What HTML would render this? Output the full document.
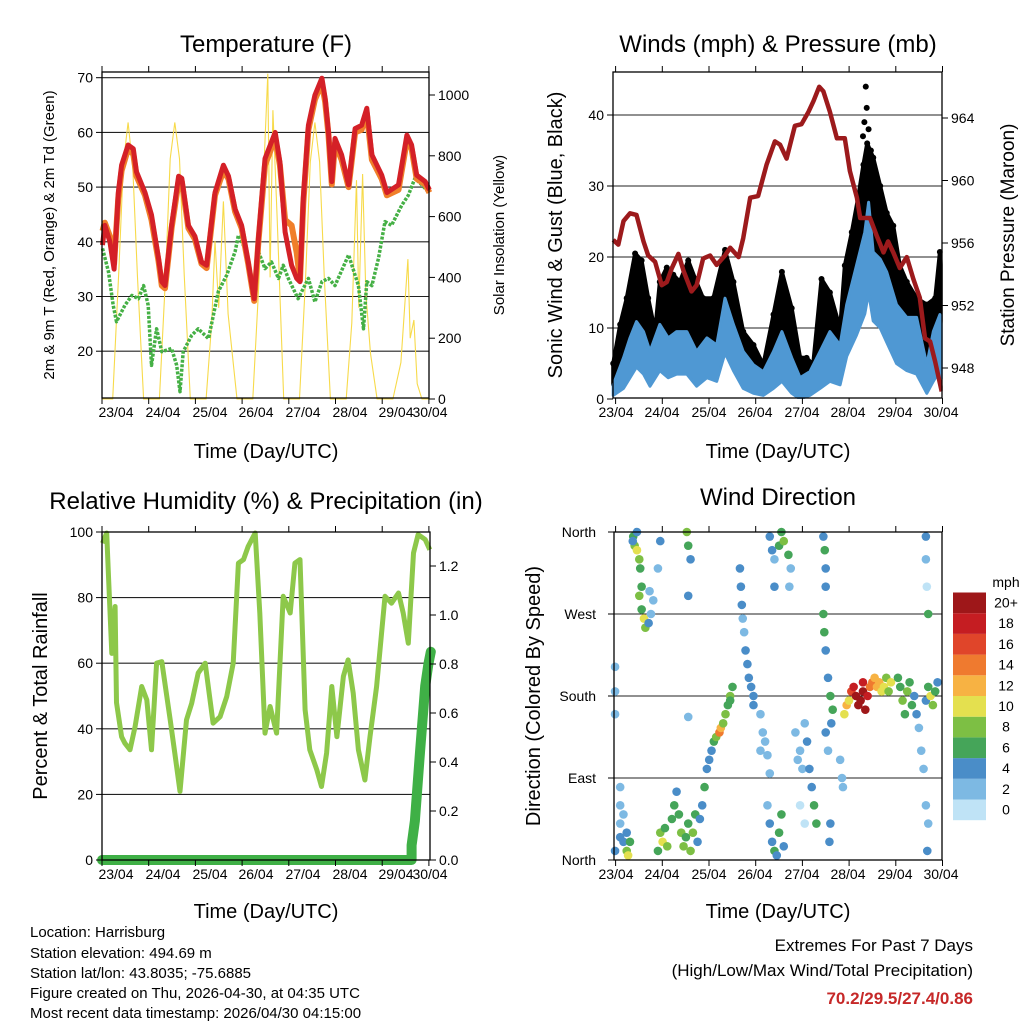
<!DOCTYPE html>
<html><head><meta charset="utf-8"><style>
html,body{margin:0;padding:0;background:#fff;}
svg{display:block;font-family:"Liberation Sans",Arial,sans-serif;}
</style></head><body>
<svg id="c" width="1024" height="1024" viewBox="0 0 1024 1024">
<rect width="1024" height="1024" fill="#fff"/>
<g font-size="24" text-anchor="middle" fill="#000">
<text x="266" y="52">Temperature (F)</text>
<text x="778" y="52">Winds (mph) &amp; Pressure (mb)</text>
<text x="266" y="509">Relative Humidity (%) &amp; Precipitation (in)</text>
<text x="778" y="505">Wind Direction</text>
</g>
<g font-size="20" text-anchor="middle">
<text x="266" y="458">Time (Day/UTC)</text>
<text x="778" y="458">Time (Day/UTC)</text>
<text x="266" y="918">Time (Day/UTC)</text>
<text x="778" y="918">Time (Day/UTC)</text>
<text transform="translate(562,235) rotate(-90)">Sonic Wind &amp; Gust (Blue, Black)</text>
<text transform="translate(1014,235) rotate(-90)" font-size="19">Station Pressure (Maroon)</text>
<text transform="translate(47,696) rotate(-90)">Percent &amp; Total Rainfall</text>
<text transform="translate(540,696) rotate(-90)">Direction (Colored By Speed)</text>
</g>
<g font-size="15" text-anchor="middle">
<text transform="translate(54,235) rotate(-90)">2m &amp; 9m T (Red, Orange) &amp; 2m Td (Green)</text>
<text transform="translate(504,235) rotate(-90)">Solar Insolation (Yellow)</text>
</g>
<g font-size="15">
<text x="30" y="937">Location: Harrisburg</text>
<text x="30" y="958">Station elevation: 494.69 m</text>
<text x="30" y="978">Station lat/lon: 43.8035; -75.6885</text>
<text x="30" y="998">Figure created on Thu, 2026-04-30, at 04:35 UTC</text>
<text x="30" y="1018">Most recent data timestamp: 2026/04/30 04:15:00</text>
</g>
<g font-size="17" text-anchor="end">
<text x="973" y="951">Extremes For Past 7 Days</text>
<text x="973" y="976">(High/Low/Max Wind/Total Precipitation)</text>
<text x="973" y="1004" font-weight="bold" fill="#c62828">70.2/29.5/27.4/0.86</text>
</g>
<g id="plots"></g>
</svg>
<script>
// ---------- Temperature panel data ----------
const tempTimes=[-0.29,-0.24,-0.13,-0.04,0.05,0.12,0.26,0.37,0.44,0.62,0.76,0.91,0.98,1.05,1.19,1.34,1.41,1.55,1.69,1.83,1.94,2.12,2.30,2.41,2.55,2.69,2.83,2.96,3.05,3.19,3.41,3.51,3.62,3.76,3.87,3.94,4.01,4.12,4.26,4.41,4.48,4.55,4.62,4.69,4.83,4.98,5.12,5.26,5.37,5.48,5.69,5.80,6.05,6.23,6.33,6.44,6.62,6.71];
const tempRed=[39.4,43,40,35,49,54,57.7,57,52.8,49,44.9,37,32.7,32,43,52,51.6,43,41,36.3,35.7,49,54,52,46,43,36.3,29.6,40.6,55.2,60,54.6,41.8,35.7,33.3,32.7,48,61.3,66.8,69.9,66.2,60,51,58.9,55.9,50.4,60.7,61.3,64.4,55.9,52.2,49,50.4,59.5,57.7,52.2,51,49.5];
const tempOrange=[42,43.5,41,36,48,53,57,56,52,48.5,44,36.5,32,31.5,42.5,51,51,42.5,40.5,36,35.2,48.5,53,51.5,45.5,42.5,36,29.2,40,54,59,54,44,43,38,33,47,60.5,66,69,65.5,59.5,50.5,58,55,50,60,60.5,63.5,55,51.5,48.5,49.5,58.5,57,51.5,50.5,49];
const dewTimes=[-0.29,-0.16,-0.06,0.01,0.19,0.34,0.48,0.59,0.69,0.76,0.87,0.98,1.19,1.30,1.37,1.44,1.62,1.76,1.98,2.19,2.37,2.55,2.62,2.76,2.94,3.05,3.19,3.33,3.48,3.58,3.69,3.90,4.12,4.26,4.41,4.55,4.69,4.98,5.19,5.30,5.37,5.48,5.62,5.76,5.90,6.12,6.26,6.40,6.55,6.69];
const dewValues=[38.8,34.5,28.4,25.4,28.4,30.2,29.6,32,28.4,17.4,24.1,19.9,20.5,17.4,12.6,19.9,22.9,24.1,22.3,30.9,33.9,38.2,41.2,38.8,29.6,38.2,35.1,36.3,33.3,35.7,33.3,29.6,33.3,29,32.7,33.3,32,37.6,32,24.1,32.7,32,37,43.7,43,46.7,48.5,51.6,50.4,49.1];
const solarTimes=[-0.30,-0.07,0.06,0.16,0.26,0.36,0.46,0.59,0.93,1.06,1.16,1.26,1.36,1.46,1.59,1.93,2.05,2.12,2.20,2.30,2.40,2.59,2.93,3.05,3.15,3.25,3.30,3.36,3.45,3.59,3.93,4.06,4.16,4.26,4.36,4.46,4.59,4.93,5.05,5.15,5.20,5.28,5.35,5.45,5.59,5.93,6.10,6.18,6.25,6.30,6.38,6.45,6.55,6.70];
const solarValues=[0,0,420,780,910,760,400,0,0,400,790,910,790,410,0,0,250,520,300,650,280,0,0,350,700,1070,400,950,600,0,0,400,780,910,780,400,0,0,250,720,300,740,350,150,0,0,120,300,460,200,260,50,0,0];
const tempTicks=[20,30,40,50,60,70];
const solarTicks=[0,200,400,600,800,1000];
const dayLabels=["23/04","24/04","25/04","26/04","27/04","28/04","29/04","30/04"];
// ---------- Winds panel data ----------
const presTimes=[-0.06,0.05,0.16,0.30,0.44,0.59,0.69,0.84,0.98,1.09,1.20,1.34,1.45,1.62,1.73,1.87,2.02,2.16,2.34,2.45,2.63,2.73,2.88,3.05,3.23,3.41,3.52,3.66,3.84,3.98,4.13,4.24,4.36,4.45,4.59,4.74,4.91,5.02,5.17,5.24,5.45,5.59,5.74,5.84,5.95,6.09,6.24,6.38,6.52,6.63,6.74,6.85,6.99];
const presValues=[956.2,955.9,957.4,957.9,957.8,956.1,955.2,954.8,953.3,953.5,954.4,955.3,954.2,952.9,953.3,955.0,955.2,954.6,955.2,955.7,955.1,956.3,958.9,959.0,961.0,962.5,962.3,961.4,963.5,963.6,964.4,965.1,966.0,965.7,964.4,962.7,962.7,960.6,958.9,957.6,957.6,956.5,955.4,956.1,955.4,954.4,955.1,953.7,952.5,949.9,949.7,948.4,946.5];
const gustTimes=[-0.06,0.09,0.23,0.41,0.55,0.69,0.84,0.94,1.09,1.23,1.37,1.55,1.70,1.87,2.09,2.34,2.52,2.73,2.95,3.16,3.38,3.56,3.77,3.95,4.09,4.23,4.41,4.59,4.81,4.91,5.06,5.20,5.31,5.39,5.52,5.67,5.81,5.95,6.09,6.24,6.45,6.67,6.85,6.95,7.00];
const gustValues=[5,10.5,14.2,20.5,19.5,14.2,9.5,16.5,18.5,17.5,16.5,19.5,16.9,14.2,14.2,21,16.5,9.5,7.6,4.8,11.9,17.9,12.8,5.8,5.8,4.8,16.9,15,9.9,18.8,23.5,28.5,33,36,34,30,26.2,24.4,18.8,16.5,14.2,13.3,14.2,20.7,16.9];
const gustSpikeTimes=[5.36,5.38,5.33,5.42,5.30,5.47];
const gustSpikeValues=[44,41,39,38,37,35];
const windTimes=[-0.06,0.16,0.30,0.44,0.59,0.73,0.94,1.12,1.30,1.52,1.73,1.95,2.16,2.34,2.52,2.73,2.95,3.16,3.38,3.56,3.77,3.95,4.16,4.38,4.59,4.81,4.95,5.16,5.34,5.42,5.52,5.67,5.81,6.02,6.24,6.45,6.67,6.81,6.95,7.00];
const windHigh=[2,5.8,8.6,10.9,9.5,6.7,10.5,8.6,9.5,9.5,6.7,8.6,7.6,14.2,10.5,6.7,4.8,3.85,6.7,9.5,5.8,3,3.85,6.7,9.5,7.6,13.3,18.8,23.5,27.7,20.7,19.7,17.9,13.3,11.5,11.5,4.8,9.5,11.9,10];
const windLow=[0.5,1.5,3,4.5,3.5,1.8,4,3,3.5,3.5,1.8,3,2.5,6.5,4,1.5,0.8,0.5,1.5,2.5,0.8,0,0.5,1.5,2.5,2,6,9,12,15,11,10,8,5,4,3.5,0.8,2.5,4,3];
const windTicks=[0,10,20,30,40];
const presTicks=[948,952,956,960,964];
// ---------- RH panel data ----------
const rhTimes=[-0.29,-0.20,-0.16,-0.09,-0.02,0.01,0.12,0.19,0.30,0.41,0.55,0.66,0.76,0.87,0.98,1.16,1.26,1.37,1.51,1.62,1.76,1.91,2.08,2.23,2.37,2.51,2.62,2.73,2.83,2.98,3.08,3.19,3.30,3.44,3.58,3.73,3.83,3.94,4.05,4.15,4.30,4.40,4.51,4.62,4.73,4.87,4.97,5.08,5.19,5.33,5.44,5.58,5.76,5.90,6.05,6.15,6.26,6.37,6.47,6.62,6.72];
const rhValues=[96.6,99.7,86.5,63,77.3,48,37.6,35.6,33.6,40.7,52.9,48.8,33.6,60,60.5,42.7,32.6,20.9,42.7,47.8,57,60,41.7,43.7,49.8,60,90.5,91.6,95.6,99.7,75.3,38.7,46.8,38.7,80.4,75.3,90.5,91.6,45.8,33.6,27.5,22.4,32.6,52.9,37.6,56,61,50.9,33.6,24.4,37.6,52.9,80.4,78.3,81.4,75.3,66.1,93.6,99.2,97.7,94.6];
const precipTimes=[-0.30,6.33,6.33,6.40,6.51,6.62,6.69,6.74];
const precipValues=[0,0,0.06,0.16,0.44,0.71,0.80,0.85];
const rhTicks=[0,20,40,60,80,100];
const precipTicks=[0,0.2,0.4,0.6,0.8,1.0,1.2];
// ---------- Wind direction data ----------
const dirTimes=[-0.02,-0.02,-0.02,-0.02,0.09,0.09,0.09,0.09,0.16,0.16,0.23,0.23,0.26,0.3,0.37,0.4,0.45,0.5,0.52,0.55,0.5,0.55,0.6,0.63,0.7,0.75,0.8,0.72,0.45,0.36,0.9,0.95,0.9,0.95,1.0,1.05,1.1,1.2,1.25,1.3,1.35,1.4,1.45,1.5,1.55,1.6,1.65,1.7,1.75,1.8,1.52,1.55,1.6,1.55,1.55,1.85,1.9,1.95,2.0,2.05,2.1,2.15,2.22,2.25,2.3,2.35,2.4,2.45,2.5,2.45,2.66,2.68,2.7,2.72,2.75,2.78,2.82,2.85,2.9,2.95,2.95,3.1,3.15,3.2,3.25,3.3,3.1,3.25,3.3,3.35,3.4,3.45,3.5,3.55,3.6,3.3,3.35,3.4,3.5,3.55,3.6,3.7,3.75,3.72,3.4,3.85,3.9,3.95,4.0,4.05,4.1,4.15,4.2,4.25,4.3,3.95,4.05,4.45,4.48,4.5,4.5,4.45,4.47,4.5,4.55,4.6,4.65,4.62,4.5,4.55,4.6,4.58,4.81,4.85,4.87,4.9,4.95,5.0,5.05,5.1,5.15,5.2,5.25,5.3,5.35,5.3,5.4,5.45,5.5,5.55,5.6,5.65,5.7,5.75,5.8,5.85,5.9,6.05,6.1,6.15,6.2,6.25,6.3,6.35,6.4,6.45,6.5,6.55,6.6,6.65,6.7,6.75,6.8,6.85,6.9,6.65,6.65,6.67,6.7,6.65,6.7,6.68];
const dirValues=[212,185,160,10,80,60,40,25,20,50,30,10,5,20,355,345,340,330,320,300,290,275,265,255,260,270,285,295,360,350,320,350,10,30,20,35,15,45,60,75,50,30,15,25,40,10,30,50,20,45,360,345,330,290,157,60,80,100,110,120,130,135,140,145,150,160,170,180,190,175,320,300,280,265,250,230,215,200,190,180,170,160,140,130,115,95,120,60,40,20,10,5,30,50,15,355,340,330,345,360,350,335,320,300,300,140,110,120,100,150,130,100,80,60,40,60,40,355,340,320,300,270,250,230,200,180,165,150,140,120,40,20,110,90,80,160,170,175,185,190,180,170,175,185,165,195,180,190,195,200,190,195,185,190,200,185,195,200,190,175,160,185,195,170,180,160,145,120,100,175,190,180,170,185,195,355,330,300,270,60,40,10];
const dirSpeeds=[2,2,3,4,2,3,3,4,4,3,5,8,10,6,6,8,10,8,6,6,8,6,10,8,4,3,3,3,4,4,2,4,6,8,10,6,8,6,6,5,6,8,8,6,6,8,8,6,5,5,8,6,4,4,3,4,6,4,4,4,6,8,14,12,8,8,6,8,6,6,4,4,4,3,3,4,4,4,4,4,4,2,2,2,2,3,2,3,4,5,6,4,6,6,5,4,4,3,6,6,8,6,3,3,4,2,2,3,3,3,4,4,5,6,6,1,1,4,6,4,5,6,7,4,5,6,6,5,4,3,4,4,2,2,2,10,12,10,16,18,20,20,20,20,20,18,18,14,14,12,12,12,10,10,8,8,10,6,6,8,6,8,6,6,4,4,2,3,2,4,6,10,8,6,4,4,3,1,6,3,2,4];
const dirTickLabels=["North","East","South","West","North"];
const dirTickValues=[0,90,180,270,360];
const speedLevels=["0","2","4","6","8","10","12","14","16","18","20+"];
const speedColors=["#bfe3f6","#7db9e3","#4a8dc8","#45a559","#7dbf44","#e4e04f","#f7b243","#ef7a2f","#e0452a","#c51d22","#9e1719"];

// ---------- helpers ----------
const NS="http://www.w3.org/2000/svg";
const root=document.getElementById('plots');
function mk(tag,attrs,parent){const e=document.createElementNS(NS,tag);for(const k in attrs)e.setAttribute(k,attrs[k]);(parent||root).appendChild(e);return e;}
function lin(d0,d1,r0,r1){return v=>r0+(v-d0)*(r1-r0)/(d1-d0);}
function pathD(xs,ys,fx,fy){return xs.map((t,i)=>(i?'L':'M')+fx(t).toFixed(1)+','+fy(ys[i]).toFixed(1)).join('');}
function txt(x,y,s,anchor,size){const e=mk('text',{x:x,y:y,'text-anchor':anchor,'font-size':size});e.textContent=s;return e;}

const p1={l:102,r:429,t:72,b:398};
const x1=lin(0,1,116,162.7);
const yT=lin(70,20,77.7,351.2);
const yS=lin(0,1000,399,95);
const x2=lin(0,1,616,662.6);
const yW=lin(0,40,399,115);
const yP=lin(948,964,368,118);
const yRH=lin(0,100,860,532);
const yPr=lin(0,1.2,860,566);
const yD=lin(0,360,860,532);

function frame(p,name){
  const r=mk('rect',{x:p.l,y:p.t,width:p.r-p.l,height:p.b-p.t,fill:'none',stroke:'#000','stroke-width':1.3});
  
  
}
function grid(vals,fy,p,name){
  vals.forEach(v=>{const g=mk('line',{x1:p.l,x2:p.r,y1:fy(v),y2:fy(v),stroke:'#222','stroke-width':1.1});
  
  });
}
function xAxis(p,tickStart,labelXs,name){
  for(let i=0;i<8;i++){const tx=tickStart+i*46.7;
    mk('line',{x1:tx,x2:tx,y1:p.t-6,y2:p.t,stroke:'#000'});
    mk('line',{x1:tx,x2:tx,y1:p.b,y2:p.b+6,stroke:'#000'});
    const l=txt(labelXs[i],p.b+19,dayLabels[i],'middle',14);
    
    }
}
function yAxis(vals,fy,x,side,fmt,name){
  vals.forEach(v=>{const y=fy(v);
    mk('line',{x1:x,x2:x+(side==='l'?-6:6),y1:y,y2:y,stroke:'#000'});
    const l=txt(side==='l'?x-9:x+9,y+5,fmt(v),side==='l'?'end':'start',14);
    
    });
}
const p1l=[116,163,210,256,303,350,396,430];
const p2l=[616,662,709,755,802,848,895,941];

// ===== Panel 1 =====
grid([20,30,40,50,60,70],yT,p1,'temp-gridline');
let e;
e=mk('path',{d:pathD(solarTimes,solarValues,x1,yS),fill:'none',stroke:'#f7da4a','stroke-width':1.1});


e=mk('path',{d:pathD(dewTimes,dewValues,x1,yT),fill:'none',stroke:'#45b045','stroke-width':3.5,'stroke-dasharray':'3 1.5','stroke-linejoin':'round'});


e=mk('path',{d:pathD(tempTimes,tempOrange,x1,yT),fill:'none',stroke:'#f07f2a','stroke-width':6,'stroke-linejoin':'round'});


e=mk('path',{d:pathD(tempTimes,tempRed,x1,yT),fill:'none',stroke:'#d42027','stroke-width':5,'stroke-linejoin':'round'});


frame(p1,'temp-plot-frame');
xAxis(p1,102,p1l,'temp-x');
yAxis(tempTicks,yT,p1.l,'l',v=>v,'temp-y');
yAxis(solarTicks,yS,p1.r,'r',v=>v,'solar-y');

// ===== Panel 2 =====
const p2={l:613,r:942,t:72,b:398};
grid([10,20,30,40],yW,p2,'wind-gridline');
const gustPoly=pathD(gustTimes,gustValues,x2,yW)+windTimes.slice().reverse().map((t,i)=>'L'+x2(t).toFixed(1)+','+yW(windHigh[windHigh.length-1-i]).toFixed(1)).join('')+'Z';
e=mk('path',{d:gustPoly,fill:'#000',stroke:'#000','stroke-width':4,'stroke-linejoin':'round'});


gustTimes.forEach((t,i)=>{const c=mk('circle',{cx:x2(t),cy:yW(gustValues[i]),r:3,fill:'#000'});

});
gustSpikeTimes.forEach((t,i)=>{const c=mk('circle',{cx:x2(t),cy:yW(gustSpikeValues[i]),r:3,fill:'#000'});

});
const bluePoly=pathD(windTimes,windHigh,x2,yW)+windTimes.slice().reverse().map((t,i)=>'L'+x2(t).toFixed(1)+','+yW(windLow[windLow.length-1-i]).toFixed(1)).join('')+'Z';
e=mk('path',{d:bluePoly,fill:'#4f98d3',stroke:'#4f98d3','stroke-width':3,'stroke-linejoin':'round'});


e=mk('path',{d:pathD(presTimes,presValues,x2,yP),fill:'none',stroke:'#9c1a1c','stroke-width':4.5,'stroke-linejoin':'round'});


mk('rect',{x:942.7,y:60,width:50,height:345,fill:'#fff'});
mk('rect',{x:605,y:399,width:345,height:10,fill:'#fff'});
frame(p2,'wind-plot-frame');
xAxis(p2,615.6,p2l,'wind-x');
yAxis(windTicks,yW,p2.l,'l',v=>v,'wind-y');
yAxis(presTicks,yP,p2.r,'r',v=>v,'pressure-y');

// ===== Panel 3 =====
const p3={l:102,r:430,t:532,b:860};
grid([20,40,60,80],yRH,p3,'rh-gridline');
e=mk('path',{d:pathD(rhTimes,rhValues,x1,yRH),fill:'none',stroke:'#8dc84a','stroke-width':5,'stroke-linejoin':'round'});


e=mk('path',{d:pathD(precipTimes,precipValues,x1,yPr),fill:'none',stroke:'#3fb046','stroke-width':10,'stroke-linecap':'round','stroke-linejoin':'round'});


frame(p3,'rh-plot-frame');
xAxis(p3,102,p1l,'rh-x');
yAxis(rhTicks,yRH,p3.l,'l',v=>v,'rh-y');
yAxis(precipTicks,yPr,p3.r,'r',v=>v.toFixed(1),'precip-y');

// ===== Panel 4 =====
const p4={l:614,r:942,t:532,b:860};
grid([90,180,270],yD,p4,'dir-gridline');
dirTimes.forEach((t,i)=>{const s=dirSpeeds[i];const k=Math.min(10,Math.floor(s/2));
  const c=mk('circle',{cx:x2(t),cy:yD(dirValues[i]),r:4.3,fill:speedColors[k]});
  
  });
frame(p4,'dir-plot-frame');
xAxis(p4,615.6,p2l,'dir-x');
dirTickValues.forEach((v,i)=>{const y=yD(v);
  mk('line',{x1:p4.l,x2:p4.l-6,y1:y,y2:y,stroke:'#000'});
  const l=txt(596,y+5,dirTickLabels[i],'end',14);
  
  });
e=txt(1006,587,'mph','middle',14);


speedLevels.forEach((lab,i)=>{const y=799.5-i*20.7;
  const r=mk('rect',{x:953,y:y,width:33,height:20.7,fill:speedColors[i]});
  
  
  const l=txt(1006,y+15,lab,'middle',14);
  
  });
</script>
</body></html>
